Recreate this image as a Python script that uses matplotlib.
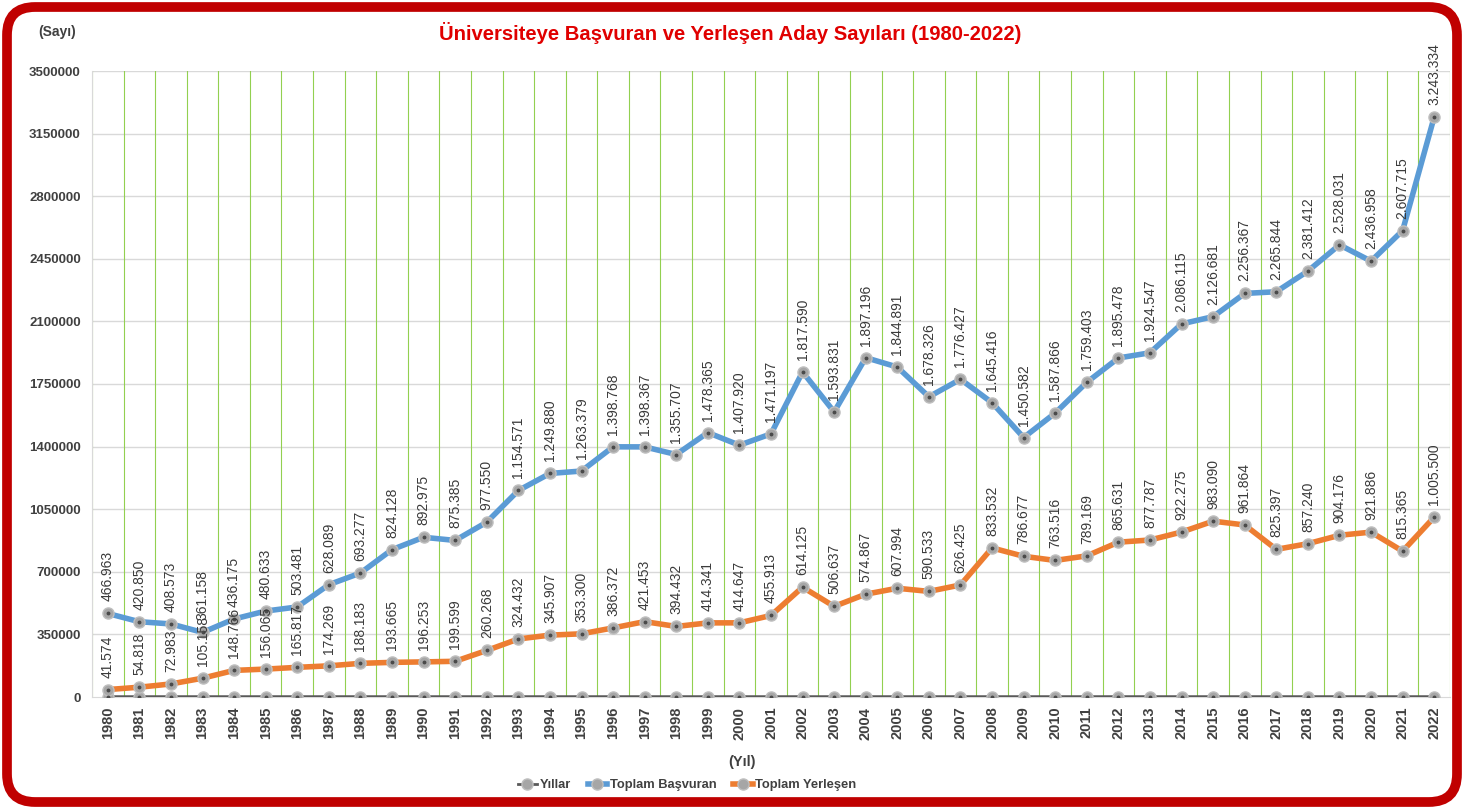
import matplotlib
matplotlib.use("Agg")
import matplotlib.pyplot as plt
from matplotlib.patches import FancyBboxPatch
from matplotlib.lines import Line2D
from matplotlib.ticker import FixedLocator

plt.rcParams['font.family'] = ['Liberation Sans', 'DejaVu Sans']

years = list(range(1980, 2023))
basvuran = [466963, 420850, 408573, 361158, 436175, 480633, 503481, 628089, 693277, 824128,
            892975, 875385, 977550, 1154571, 1249880, 1263379, 1398768, 1398367, 1355707, 1478365,
            1407920, 1471197, 1817590, 1593831, 1897196, 1844891, 1678326, 1776427, 1645416, 1450582,
            1587866, 1759403, 1895478, 1924547, 2086115, 2126681, 2256367, 2265844, 2381412, 2528031,
            2436958, 2607715, 3243334]
yerlesen = [41574, 54818, 72983, 105158, 148766, 156065, 165817, 174269, 188183, 193665,
            196253, 199599, 260268, 324432, 345907, 353300, 386372, 421453, 394432, 414341,
            414647, 455913, 614125, 506637, 574867, 607994, 590533, 626425, 833532, 786677,
            763516, 789169, 865631, 877787, 922275, 983090, 961864, 825397, 857240, 904176,
            921886, 815365, 1005500]
yticks = [0, 350000, 700000, 1050000, 1400000, 1750000, 2100000, 2450000, 2800000, 3150000, 3500000]

title = "Üniversiteye Başvuran ve Yerleşen Aday Sayıları (1980-2022)"
names = ["Yıllar", "Toplam Başvuran", "Toplam Yerleşen"]

BLUE = '#5B9BD5'
ORANGE = '#ED7D31'
DGRAY = '#595959'
MFACE = '#A6A6A6'
MEDGE = '#BFBFBF'
TXT = '#404040'

W, H = 1467, 807
fig = plt.figure(figsize=(W / 100, H / 100), dpi=100)
fig.patch.set_facecolor('white')

ax = fig.add_axes([92 / W, 1 - 697 / H, (1450 - 92) / W, (697 - 71) / H])
x = list(range(len(years)))

ax.set_xlim(-0.5, len(years) - 0.5)
ax.set_ylim(0, 3500000)
ax.yaxis.set_major_locator(FixedLocator(yticks))
ax.set_yticklabels([str(v) for v in yticks], fontsize=9.5, fontweight='bold', color=TXT)
ax.set_xticks(x)
ax.set_xticklabels([str(y) for y in years], rotation=90, fontsize=10.5, fontweight='bold', color=TXT)
ax.tick_params(axis='x', length=0, pad=7)
ax.tick_params(axis='y', length=0, pad=8)

# grids
for yv in yticks[1:]:
    ax.axhline(yv, color='#D9D9D9', lw=1, zorder=0)
for i in range(len(years) + 1):
    ax.axvline(i - 0.5, color='#92D050', lw=0.8, zorder=0)
for s in ['top', 'right']:
    ax.spines[s].set_visible(False)
ax.spines['left'].set_color('#D9D9D9')
ax.spines['bottom'].set_color('#D9D9D9')

mk = dict(marker='o', markersize=8, markerfacecolor=MFACE, markeredgecolor=MEDGE, markeredgewidth=1)
ax.plot(x, years, color=DGRAY, lw=2, zorder=3, **mk)
ax.plot(x, basvuran, color=BLUE, lw=4, zorder=4, **mk)
ax.plot(x, yerlesen, color=ORANGE, lw=4, zorder=4, **mk)
for series in (years, basvuran, yerlesen):
    ax.plot(x, series, ls='none', marker='o', markersize=1.8, color='#4A4A4A', zorder=5)

def fmt(v):
    return f"{v:,}".replace(',', '.')

for xi, v in zip(x, basvuran):
    ax.annotate(fmt(v), (xi, v), xytext=(0, 12), textcoords='offset pixels', rotation=90,
                ha='center', va='bottom', fontsize=10, color='#3A3A3A', zorder=6, annotation_clip=False)
for xi, v in zip(x, yerlesen):
    ax.annotate(fmt(v), (xi, v), xytext=(0, 12), textcoords='offset pixels', rotation=90,
                ha='center', va='bottom', fontsize=10, color='#3A3A3A', zorder=6, annotation_clip=False)

# texts
fig.text(730 / W, 1 - 33 / H, title, ha='center', va='center', fontsize=14.6, fontweight='bold', color='#E00000')
fig.text(57 / W, 1 - 32 / H, "(Sayı)", ha='center', va='center', fontsize=10, fontweight='bold', color=TXT)
fig.text(742 / W, 1 - 762 / H, "(Yıl)", ha='center', va='center', fontsize=10.5, fontweight='bold', color=TXT)

handles = [
    Line2D([], [], color=DGRAY, lw=2, **mk),
    Line2D([], [], color=BLUE, lw=4, **mk),
    Line2D([], [], color=ORANGE, lw=4, **mk),
]
leg = fig.legend(handles, names, loc='center', bbox_to_anchor=(687 / W, 1 - 785 / H), ncol=3,
                 frameon=False, prop={'weight': 'bold', 'size': 9.3}, handlelength=1.5,
                 columnspacing=1.3, handletextpad=0.2)
for t in leg.get_texts():
    t.set_color(TXT)

# red rounded border
bax = fig.add_axes([0, 0, 1, 1], zorder=-1)
bax.set_xlim(0, W)
bax.set_ylim(0, H)
bax.axis('off')
bax.patch.set_alpha(0)
border = FancyBboxPatch((7, 5), W - 7 - 10, H - 5 - 7, boxstyle='round,pad=0,rounding_size=28',
                        fill=False, edgecolor='#C00000', lw=7)
bax.add_patch(border)

fig.savefig('out.png', dpi=100)
